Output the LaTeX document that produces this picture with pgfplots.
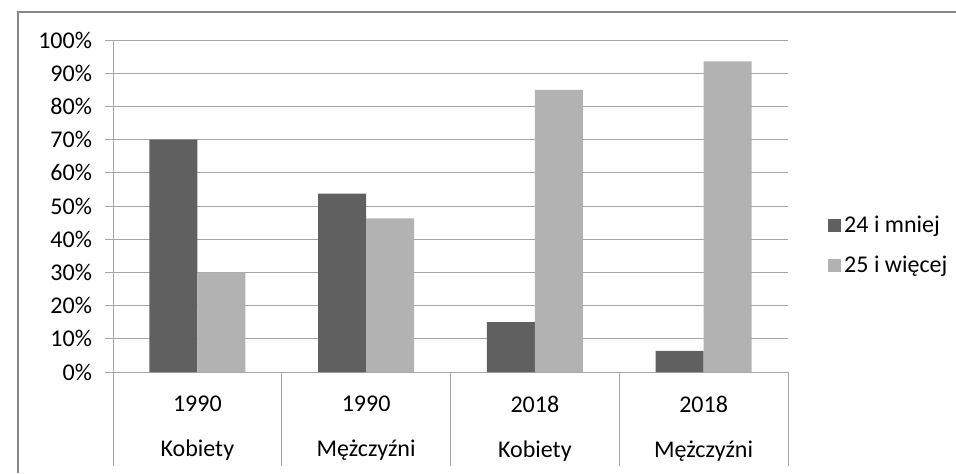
\documentclass[border=0pt]{standalone}
\usepackage{fontspec}
\setmainfont{Carlito}
\usepackage{pgfplots}
\pgfplotsset{compat=1.18}
\definecolor{darkbar}{HTML}{606060}
\definecolor{lightbar}{HTML}{B2B2B2}
\definecolor{gridc}{HTML}{A6A6A6}
\definecolor{framec}{HTML}{878787}
\begin{document}
\begin{tikzpicture}[font=\fontsize{12}{14.4}\selectfont]
\useasboundingbox (0,0) rectangle (478pt,236.5pt);
\draw[framec, line width=1pt] (9pt,0) -- (9pt,230.5pt) -- (478pt,230.5pt);
\begin{axis}[
  at={(56.5pt,50.5pt)}, anchor=south west,
  scale only axis, width=337.5pt, height=166pt,
  clip=false,
  ybar=0pt, bar width=24pt,
  xmin=-0.5, xmax=3.5, ymin=0, ymax=100,
  axis lines*=left,
  axis line style={gridc, line width=0.5pt},
  ytick={0,10,...,100},
  yticklabel={\pgfmathprintnumber{\tick}\%},
  yticklabel style={xshift=-3pt},
  /pgf/number format/assume math mode=true,
  ymajorgrids, grid style={gridc, line width=0.5pt},
  tick align=outside, major tick length=4pt,
  ytick style={gridc, line width=0.5pt},
  xtick={0,1,2,3},
  xticklabels={{1990\\[8pt]Kobiety},{1990\\[8pt]Mężczyźni},{2018\\[8pt]Kobiety},{2018\\[8pt]Mężczyźni}},
  xtick style={draw=none},
  xticklabel style={align=center, yshift=-4.5pt},
  legend style={at={(rel axis cs:1.059,0.38)}, anchor=west, draw=none, fill=none, inner sep=0pt, row sep=7pt, nodes={inner sep=1.5pt}},
  legend cell align=left,
]
\addplot[fill=darkbar, draw=none, legend image code/.code={\fill[darkbar] (0pt,-3.2pt) rectangle (6.5pt,3.3pt);}] coordinates {(0,70) (1,53.7) (2,15) (3,6.4)};
\addplot[fill=lightbar, draw=none, legend image code/.code={\fill[lightbar] (0pt,-3.2pt) rectangle (6.5pt,3.3pt);}] coordinates {(0,30) (1,46.3) (2,85) (3,93.6)};
\legend{24 i mniej, 25 i więcej}
\pgfplotsinvokeforeach{-0.5,0.5,1.5,2.5,3.5}{\draw[gridc, line width=0.5pt] (axis cs:#1,0) -- ++(0pt,-47pt);}
\end{axis}
\end{tikzpicture}
\end{document}
